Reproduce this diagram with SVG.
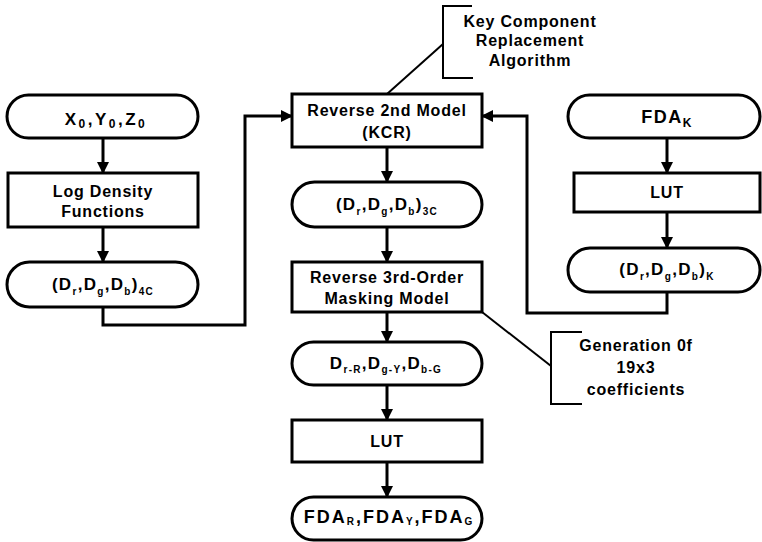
<svg xmlns="http://www.w3.org/2000/svg" width="762" height="542" viewBox="0 0 762 542">
<style>
.shape{fill:#fff;stroke:#000;stroke-width:3}
.ln{fill:none;stroke:#000;stroke-width:3}
.ann{fill:none;stroke:#000;stroke-width:2}
text{font-family:"Liberation Sans",Arial,sans-serif;font-weight:bold;font-size:16px;letter-spacing:0.8px;fill:#000;text-anchor:middle}
.p{font-size:17px;letter-spacing:1.3px}
.f{font-size:18px;letter-spacing:2px}
.s{font-size:10px}
.s12{font-size:12px}
</style>
<defs>
<marker id="ah" markerWidth="12" markerHeight="12" refX="11" refY="6" orient="auto" markerUnits="userSpaceOnUse">
<path d="M0,0 L12,6 L0,12 Z" fill="#000"/>
</marker>
</defs>
<rect width="762" height="542" fill="#fff"/>
<g id="connectors">
<line class="ln" x1="103" y1="138" x2="103" y2="173" marker-end="url(#ah)"/>
<line class="ln" x1="103" y1="227" x2="103" y2="262" marker-end="url(#ah)"/>
<polyline class="ln" points="103,307 103,325 245,325 245,116 292,116" marker-end="url(#ah)"/>
<line class="ln" x1="387" y1="147" x2="387" y2="182" marker-end="url(#ah)"/>
<line class="ln" x1="387" y1="227" x2="387" y2="262" marker-end="url(#ah)"/>
<line class="ln" x1="387" y1="312" x2="387" y2="342" marker-end="url(#ah)"/>
<line class="ln" x1="387" y1="385" x2="387" y2="420" marker-end="url(#ah)"/>
<line class="ln" x1="387" y1="462" x2="387" y2="497" marker-end="url(#ah)"/>
<line class="ln" x1="667" y1="138" x2="667" y2="173" marker-end="url(#ah)"/>
<line class="ln" x1="667" y1="212" x2="667" y2="248" marker-end="url(#ah)"/>
<polyline class="ln" points="667,292 667,313 527,313 527,116 482,116" marker-end="url(#ah)"/>
<line class="ann" x1="387" y1="94" x2="443" y2="44"/>
<line class="ann" x1="482" y1="312" x2="551" y2="366"/>
</g>
<g id="xyz">
<rect class="shape" x="7" y="95" width="191" height="43" rx="21.5"/>
<text class="p" x="106" y="125" style="letter-spacing:2.5px">X<tspan class="s12" dy="3">0</tspan><tspan dy="-3">,Y</tspan><tspan class="s12" dy="3">0</tspan><tspan dy="-3">,Z</tspan><tspan class="s12" dy="3">0</tspan></text>
</g>
<g id="logdensity">
<rect class="shape" x="8" y="173" width="190" height="54"/>
<text x="103" y="197">Log Density</text>
<text x="103" y="217">Functions</text>
</g>
<g id="d4c">
<rect class="shape" x="7" y="262" width="191" height="45" rx="22.5"/>
<text class="p" x="103" y="290">(D<tspan class="s" dy="5">r</tspan><tspan dy="-5">,D</tspan><tspan class="s" dy="5">g</tspan><tspan dy="-5">,D</tspan><tspan class="s" dy="5">b</tspan><tspan dy="-5">)</tspan><tspan class="s" dy="5">4C</tspan></text>
</g>
<g id="reverse2nd">
<rect class="shape" x="292" y="94" width="190" height="53"/>
<text x="387" y="116">Reverse 2nd Model</text>
<text x="387" y="138">(KCR)</text>
</g>
<g id="d3c">
<rect class="shape" x="292" y="182" width="190" height="45" rx="22.5"/>
<text class="p" x="387" y="210">(D<tspan class="s" dy="5">r</tspan><tspan dy="-5">,D</tspan><tspan class="s" dy="5">g</tspan><tspan dy="-5">,D</tspan><tspan class="s" dy="5">b</tspan><tspan dy="-5">)</tspan><tspan class="s" dy="5">3C</tspan></text>
</g>
<g id="reverse3rd">
<rect class="shape" x="292" y="262" width="190" height="50"/>
<text x="387" y="283">Reverse 3rd-Order</text>
<text x="387" y="304">Masking Model</text>
</g>
<g id="drgb">
<rect class="shape" x="292" y="342" width="190" height="43" rx="21.5"/>
<text class="p" x="386" y="369">D<tspan class="s" dy="4">r-R</tspan><tspan dy="-4">,D</tspan><tspan class="s" dy="4">g-Y</tspan><tspan dy="-4">,D</tspan><tspan class="s" dy="4">b-G</tspan></text>
</g>
<g id="lut2">
<rect class="shape" x="292" y="420" width="190" height="42"/>
<text x="387" y="447">LUT</text>
</g>
<g id="fdargb">
<rect class="shape" x="292" y="497" width="190" height="43" rx="21.5"/>
<text class="f" x="389" y="523">FDA<tspan class="s" dy="2">R</tspan><tspan dy="-2">,FDA</tspan><tspan class="s" dy="2">Y</tspan><tspan dy="-2">,FDA</tspan><tspan class="s" dy="2">G</tspan></text>
</g>
<g id="fdak">
<rect class="shape" x="568" y="95" width="192" height="43" rx="21.5"/>
<text class="f" x="667" y="123" style="letter-spacing:1.5px">FDA<tspan class="s12" dy="4">K</tspan></text>
</g>
<g id="lut1">
<rect class="shape" x="574" y="173" width="186" height="39"/>
<text x="667" y="198">LUT</text>
</g>
<g id="dk">
<rect class="shape" x="568" y="248" width="192" height="44" rx="22"/>
<text class="p" x="667" y="275">(D<tspan class="s" dy="5">r</tspan><tspan dy="-5">,D</tspan><tspan class="s" dy="5">g</tspan><tspan dy="-5">,D</tspan><tspan class="s" dy="5">b</tspan><tspan dy="-5">)</tspan><tspan class="s" dy="5">K</tspan></text>
</g>
<g id="kcr-note">
<polyline class="ann" points="472,6 443,6 443,78 473,78"/>
<text x="530" y="27">Key Component</text>
<text x="530" y="46">Replacement</text>
<text x="530" y="66">Algorithm</text>
</g>
<g id="gen-note">
<polyline class="ann" points="582,332 551,332 551,404 582,404"/>
<text x="636" y="351">Generation 0f</text>
<text x="636" y="373">19x3</text>
<text x="636" y="395">coefficients</text>
</g>
</svg>
